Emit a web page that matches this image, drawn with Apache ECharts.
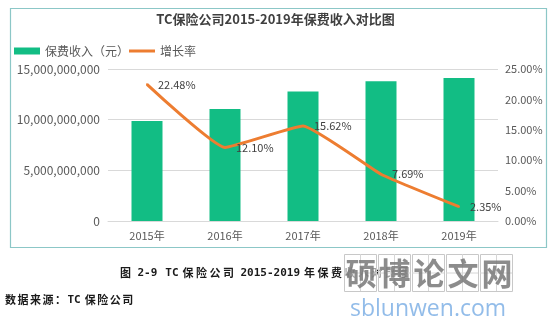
<!DOCTYPE html>
<html><head><meta charset="utf-8">
<script src="https://cdn.jsdelivr.net/npm/echarts@6/dist/echarts.min.js"></script>
<style>html,body{margin:0;padding:0;background:#fff}#c{width:551px;height:327px}</style>
</head><body><div id="c"></div>
<script>
const categories = ['2015年','2016年','2017年','2018年','2019年'];
const premium = [9870000000, 11060000000, 12790000000, 13780000000, 14100000000];
const growth = [0.2248, 0.1210, 0.1562, 0.0769, 0.0235];
const leftTicks = {min:0, max:15000000000, interval:5000000000};
const rightTicks = {min:0, max:0.25, interval:0.05};
const titleText = 'TC保险公司2015-2019年保费收入对比图';
const captionText = '图 2-9  TC 保险公司 2015-2019 年保费收入对比图';
const sourceText = '数据来源：TC 保险公司';
const watermarkText = '硕博论文网';
const watermarkUrl = 'sblunwen.com';

const F = '"Noto Sans CJK SC","Microsoft YaHei",sans-serif';
const MONO = '"DejaVu Sans Mono","Liberation Mono",monospace';

function spacedText(str, x0, y, cjkPitch, asciiPitch, spacePitch, style) {
  const out = [];
  let x = x0;
  const chars = Array.from(str);
  let i = 0;
  while (i < chars.length) {
    const ch = chars[i];
    if (ch === ' ') { x += spacePitch; i++; continue; }
    if (ch.charCodeAt(0) > 255) {
      out.push({type:'text', x:x, y:y, silent:true,
        style:Object.assign({text:ch, textVerticalAlign:'middle'}, style, {fontFamily:F})});
      x += cjkPitch; i++;
    } else {
      let run = '';
      while (i < chars.length && chars[i] !== ' ' && chars[i].charCodeAt(0) <= 255) { run += chars[i]; i++; }
      out.push({type:'text', x:x, y:y, silent:true,
        style:Object.assign({text:run, textVerticalAlign:'middle'}, style, {fontFamily:MONO})});
      x += run.length * asciiPitch;
    }
  }
  return out;
}

const capStyle = {fontSize:11, fontWeight:'bold', fill:'#1a1a1a'};
const graphics = [
  {type:'rect', shape:{x:10.5, y:8.5, width:536, height:239}, style:{fill:'none', stroke:'#8CC7C7', lineWidth:1.2}, silent:true, z:-1}
];
graphics.push(...spacedText(captionText, 120, 273, 13.5, 6.6, 4, capStyle));
graphics.push(...spacedText(sourceText, 5, 300, 12.5, 6.6, 4, capStyle));
const wmChars = Array.from(watermarkText);
wmChars.forEach((ch, i) => {
  const bx = 344 + i * 34, by = 254, bw = 32, bh = 37;
  graphics.push({type:'rect', silent:true, shape:{x:bx+0.5, y:by+0.5, width:bw, height:bh}, style:{fill:'rgba(255,255,255,0.6)', stroke:'#c8c8c8', lineWidth:1}, z:10});
  graphics.push({type:'line', silent:true, shape:{x1:bx+bw/2+0.5, y1:by, x2:bx+bw/2+0.5, y2:by+bh}, style:{stroke:'#d6d6d6', lineWidth:1}, z:10});
  graphics.push({type:'line', silent:true, shape:{x1:bx, y1:by+bh/2+0.5, x2:bx+bw, y2:by+bh/2+0.5}, style:{stroke:'#d6d6d6', lineWidth:1}, z:10});
  graphics.push({type:'text', silent:true, x:bx+bw/2+1, y:by+bh/2+1, z:11,
    style:{text:ch, fontSize:31, fontWeight:'bold', fill:'rgba(120,120,120,0.85)', fontFamily:F, textAlign:'center', textVerticalAlign:'middle'}});
});
graphics.push({type:'text', silent:true, x:350, y:309, z:11,
  style:{text:watermarkUrl, fontSize:23, fill:'rgba(110,165,225,0.75)', fontFamily:'"Open Sans",sans-serif', textVerticalAlign:'middle'}});

const chart = echarts.init(document.getElementById('c'));
chart.setOption({
  animation:false,
  textStyle:{fontFamily:F},
  title:{text:titleText, left:'center', top:8, textStyle:{fontSize:13, fontWeight:'bold', color:'#404040', fontFamily:F}},
  legend:{left:9, top:40, itemGap:0, itemWidth:26, itemHeight:7,
    textStyle:{fontSize:12, color:'#595959', fontFamily:F},
    data:[{name:'保费收入（元）', icon:'rect'},
          {name:'增长率', icon:'path://M0,0 L26,0 L26,3 L0,3 Z', itemStyle:{color:'#ED7D31', opacity:1}}]},
  grid:{left:108, right:53, top:69, bottom:106},
  xAxis:{type:'category', data:categories, axisTick:{show:false},
    axisLine:{lineStyle:{color:'#D9D9D9'}},
    axisLabel:{color:'#595959', fontSize:11, margin:9}},
  yAxis:[
    {type:'value', min:leftTicks.min, max:leftTicks.max, interval:leftTicks.interval,
     axisLine:{show:false}, axisTick:{show:false},
     splitLine:{lineStyle:{color:'#D9D9D9'}},
     axisLabel:{color:'#595959', fontSize:12, margin:8, formatter:v=>v.toLocaleString('en-US')}},
    {type:'value', min:rightTicks.min, max:rightTicks.max, interval:rightTicks.interval,
     axisLine:{show:false}, axisTick:{show:false}, splitLine:{show:false},
     axisLabel:{color:'#595959', fontSize:11, margin:7, formatter:v=>(v*100).toFixed(2)+'%'}}
  ],
  series:[
    {name:'保费收入（元）', type:'bar', data:premium, barWidth:31, itemStyle:{color:'#12BD84'}},
    {name:'增长率', type:'line', yAxisIndex:1, data:growth, smooth:0.12,
     symbol:'circle', symbolSize:2, showSymbol:true,
     lineStyle:{color:'#ED7D31', width:3}, itemStyle:{color:'#ED7D31'},
     label:{show:true, position:'right', distance:10, color:'#404040', fontSize:11,
       formatter:p=>(p.value*100).toFixed(2)+'%'}}
  ],
  graphic:graphics
});
</script></body></html>
